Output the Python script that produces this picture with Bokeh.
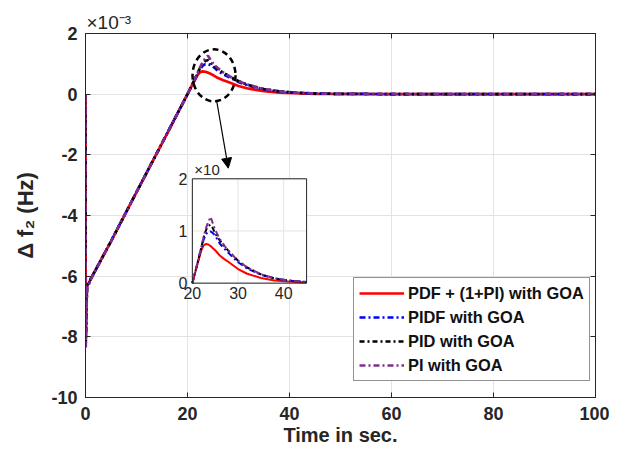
import numpy as np
from bokeh.plotting import figure
from bokeh.models import (Range1d, LinearAxis, FixedTicker, Arrow, NormalHead,
                          CustomLabelingPolicy)
from bokeh.core.properties import value
from bokeh.embed import file_html
from bokeh.resources import INLINE

# ---------------- data (frequency deviation in units of 1e-3 Hz) ----------------
time_s = [0, 0.05, 0.3, 0.6, 1, 5, 10, 15, 20, 21, 22, 22.5, 23, 23.5, 24, 24.5, 25,
          26, 27, 28, 30, 32, 35, 38, 41, 45, 50, 60, 80, 100]

pdf_1pi = [0, -8.0, -6.3, -6.25, -6.1, -4.85, -3.23, -1.62, 0.0,
           0.33, 0.64, 0.73, 0.75, 0.74, 0.71, 0.67, 0.63,
           0.53, 0.46, 0.40, 0.27, 0.18, 0.10, 0.05, 0.03, 0.01, 0.005, 0, 0, 0]
pidf = [0, -8.1, -6.3, -6.25, -6.1, -4.85, -3.23, -1.62, 0.0,
        0.34, 0.68, 0.84, 0.94, 0.99, 0.99, 0.96, 0.91,
        0.76, 0.66, 0.57, 0.40, 0.28, 0.16, 0.09, 0.05, 0.02, 0.01, 0.003, 0, 0]
pid = [0, -8.2, -6.3, -6.25, -6.1, -4.85, -3.23, -1.62, 0.0,
       0.34, 0.70, 0.88, 1.02, 1.10, 1.12, 1.05, 0.95,
       0.82, 0.71, 0.61, 0.43, 0.30, 0.17, 0.09, 0.05, 0.02, 0.01, 0.003, 0, 0]
pi_ = [0, -8.35, -6.35, -6.3, -6.12, -4.85, -3.23, -1.62, 0.0,
       0.34, 0.70, 0.90, 1.06, 1.18, 1.27, 1.14, 1.02,
       0.85, 0.72, 0.61, 0.43, 0.30, 0.17, 0.09, 0.05, 0.02, 0.01, 0.003, 0, 0]

series_labels = ["PDF + (1+PI) with GOA", "PIDF with GOA", "PID with GOA", "PI with GOA"]
series_values = [pdf_1pi, pidf, pid, pi_]
series_colors = ["#ff0000", "#0000ff", "#000000", "#7e2f8e"]
series_dash = ["solid", "6 3 2 3", "5 3 2 3", "6 3 2 3"]

x_ticks = [0, 20, 40, 60, 80, 100]
y_ticks = [-10, -8, -6, -4, -2, 0, 2]
inset_xlim = (20, 45)
inset_ylim = (0, 2)
inset_xticks = [20, 30, 40]
inset_yticks = [0, 1, 2]

FONT = "Liberation Sans"

p = figure(width=609, height=448, x_range=Range1d(0, 100), y_range=Range1d(-10, 2),
           output_backend="svg", toolbar_location=None,
           min_border_left=85, min_border_right=14, min_border_top=33, min_border_bottom=50)
p.background_fill_color = "white"
p.outline_line_color = "#262626"

# exponent note (×10⁻³) above the top-left corner
p.title.text = "×10⁻³"
p.title.align = "left"
p.title.text_font = FONT
p.title.text_font_style = "normal"
p.title.text_font_size = "19px"
p.title.text_color = "#262626"
p.title.standoff = 1
p.title.offset = 1

for ax in (p.xaxis, p.yaxis):
    ax.major_label_text_font = FONT
    ax.major_label_text_font_style = "bold"
    ax.major_label_text_font_size = "18px"
    ax.major_label_text_color = "#262626"
    ax.axis_label_text_font = FONT
    ax.axis_label_text_font_style = "bold"
    ax.axis_label_text_font_size = "20px"
    ax.axis_label_text_color = "#262626"
    ax.major_tick_in = 5
    ax.major_tick_out = 0
    ax.minor_tick_line_color = None
    ax.axis_line_color = "#262626"
    ax.major_tick_line_color = "#262626"

p.yaxis.axis_label_text_font_size = "22px"
p.xaxis.ticker = FixedTicker(ticks=x_ticks)
p.yaxis.ticker = FixedTicker(ticks=y_ticks)
p.xaxis.major_label_overrides = {v: str(v) for v in x_ticks}
p.yaxis.major_label_overrides = {v: str(v) for v in y_ticks}
p.xaxis.axis_label = "Time in sec."
p.yaxis.axis_label = "Δ f₂ (Hz)"
p.xaxis.major_label_standoff = 9
p.yaxis.major_label_standoff = 8
p.xaxis.axis_label_standoff = 1
p.yaxis.axis_label_standoff = 10

hide_all = CustomLabelingPolicy(code="for (const i of indices) { indices.unset(i) }\nreturn indices")
for loc, ticks in (("above", x_ticks), ("right", y_ticks)):
    a = LinearAxis(ticker=FixedTicker(ticks=ticks), major_label_policy=hide_all,
                   major_label_overrides={v: "" for v in ticks},
                   major_tick_in=5, major_tick_out=0, minor_tick_line_color=None,
                   axis_line_color="#262626", major_tick_line_color="#262626",
                   major_label_standoff=0)
    p.add_layout(a, loc)

p.grid.grid_line_color = "#e3e3e3"
p.grid.grid_line_width = 1

for lbl, vals, col, dash in zip(series_labels, series_values, series_colors, series_dash):
    p.line(time_s, vals, line_color=col, line_width=2.7, line_dash=dash, legend_label=lbl)

# ---------------- inset ----------------
sub = p.subplot(x_source=Range1d(*inset_xlim), y_source=Range1d(*inset_ylim),
                x_target=Range1d(20.95, 43.35), y_target=Range1d(-6.23, -2.79))
sub.quad(left=[inset_xlim[0]], right=[inset_xlim[1]], bottom=[inset_ylim[0]], top=[inset_ylim[1]],
         fill_color="white", line_color=None)
sub.segment(x0=inset_xticks, y0=[inset_ylim[0]] * 3, x1=inset_xticks, y1=[inset_ylim[1]] * 3,
            line_color="#e3e3e3", line_width=1)
sub.segment(x0=[inset_xlim[0]] * 3, y0=inset_yticks, x1=[inset_xlim[1]] * 3, y1=inset_yticks,
            line_color="#e3e3e3", line_width=1)
t_arr = np.array(time_s)
mask = (t_arr >= inset_xlim[0]) & (t_arr <= inset_xlim[1])
for vals, col, dash in zip(series_values, series_colors, series_dash):
    sub.line(t_arr[mask], np.array(vals)[mask], line_color=col, line_width=2, line_dash=dash)
sub.quad(left=[inset_xlim[0]], right=[inset_xlim[1]], bottom=[inset_ylim[0]], top=[inset_ylim[1]],
         fill_color=None, line_color="#262626", line_width=1)
sub.text(x=inset_xticks, y=[inset_ylim[0]] * 3, text=[str(v) for v in inset_xticks],
         text_align="center", text_baseline="top", y_offset=4,
         text_font=value(FONT), text_font_size="16px", text_color="#262626")
sub.text(x=[inset_xlim[0]] * 3, y=inset_yticks, text=[str(v) for v in inset_yticks],
         text_align="right", text_baseline="middle", x_offset=-5,
         text_font=value(FONT), text_font_size="16px", text_color="#262626")
sub.text(x=[inset_xlim[0]], y=[inset_ylim[1]], text=["×10"], text_align="left",
         text_baseline="bottom", x_offset=2, y_offset=-1,
         text_font=value(FONT), text_font_size="15px", text_color="#262626")

# ---------------- annotations ----------------
p.ellipse(x=[25.2], y=[0.62], width=43, height=52, width_units="screen", height_units="screen",
          fill_color=None, line_color="black", line_width=2.5, line_dash="6 4")
p.add_layout(Arrow(end=NormalHead(size=10, fill_color="black", line_color="black"),
                   x_start=25.7, y_start=-0.2, x_end=28.0, y_end=-2.44,
                   line_color="black", line_width=1.2))

lg = p.legend[0]
lg.location = (268, 16)
lg.label_text_font = FONT
lg.label_text_font_style = "bold"
lg.label_text_font_size = "16.4px"
lg.label_text_color = "#111111"
lg.glyph_width = 45
lg.glyph_height = 20
lg.label_height = 20
lg.label_standoff = 4
lg.spacing = 4
lg.padding = 5
lg.margin = 0
lg.border_line_color = "#262626"
lg.border_line_width = 1
lg.background_fill_alpha = 1

open("out.html", "w").write(file_html(p, INLINE))
